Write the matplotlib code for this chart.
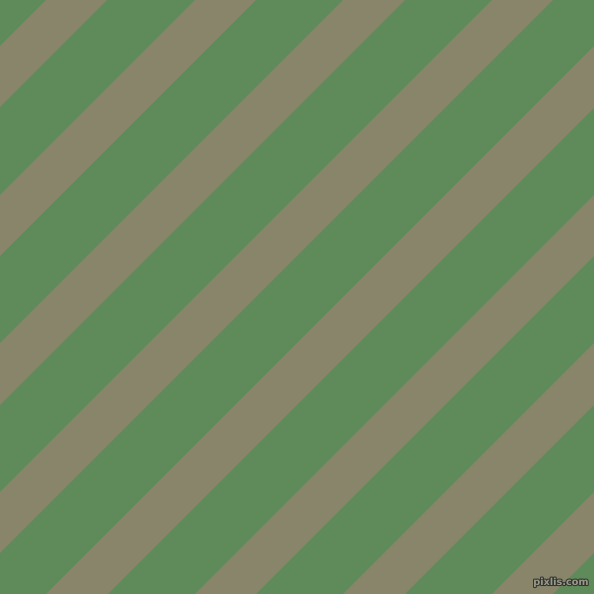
import numpy as np
import matplotlib
matplotlib.use("Agg")
import matplotlib.pyplot as plt
import matplotlib.patheffects as pe

# Diagonal stripe bands: x + y ranges (pixel units) for tan stripes
band_start = [46, 195, 343, 492, 640, 789, 937, 1086]
band_end = [107, 256, 405, 553, 702, 850, 999, 1147]
green = "#5F8B5A"
tan = "#88856A"
watermark = "pixlis.com"

W = H = 594
fig = plt.figure(figsize=(5.94, 5.94), dpi=100)
ax = fig.add_axes([0, 0, 1, 1])
ax.set_xlim(0, W)
ax.set_ylim(H, 0)
ax.set_facecolor(green)
ax.axis("off")
fig.patch.set_facecolor(green)

x = np.linspace(-10, W + 10, 400)
for a, b in zip(band_start, band_end):
    ax.fill_between(x, a - x, b - x, color=tan, linewidth=0, antialiased=True)

ax.set_xlim(0, W)
ax.set_ylim(H, 0)

t = ax.text(589, 587, watermark, ha="right", va="bottom", fontsize=7,
            color="#9a9a88", family="DejaVu Sans", fontweight="bold")
t.set_path_effects([pe.withStroke(linewidth=1.5, foreground="#333333")])

fig.savefig("out.png", dpi=100, facecolor=green)
